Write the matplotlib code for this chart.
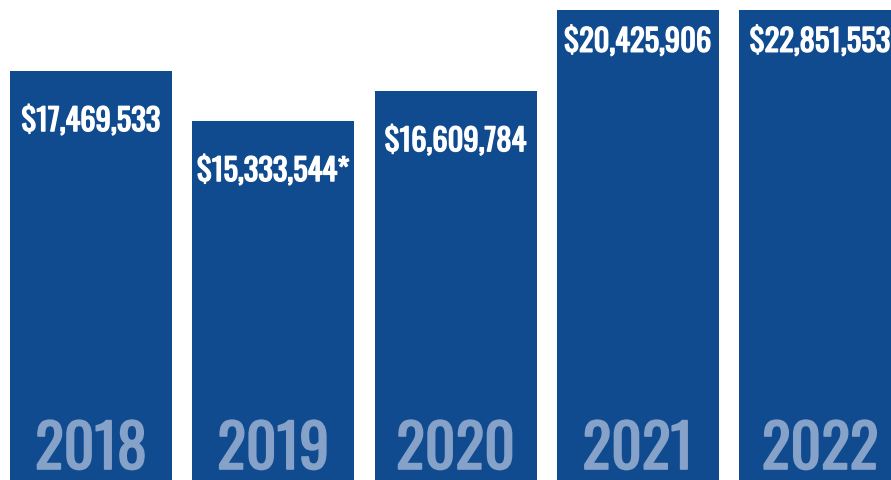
import matplotlib
matplotlib.use("Agg")
import matplotlib.pyplot as plt
import matplotlib.patheffects as pe

# data
years = ["2018", "2019", "2020", "2021", "2022"]
values = [17469533, 15333544, 16609784, 20425906, 22851553]
labels = ["$17,469,533", "$15,333,544*", "$16,609,784", "$20,425,906", "$22,851,553"]

bar_color = "#104b8f"
year_color = "#87a2c8"
fonts = ["Oswald", "Roboto Condensed", "DejaVu Sans"]

fig = plt.figure(figsize=(8.91, 4.81), dpi=100)
ax = fig.add_axes([0, 0, 1, 470 / 481])

ymax = 20.09e6
pitch = 182.25
xs = [i * pitch for i in range(len(years))]
ax.bar(xs, values, width=162, color=bar_color, clip_on=True)
ax.set_xlim(-91, 891 - 91)
ax.set_ylim(0, ymax)
ax.axis("off")

# oswald here is only regular weight, so thicken the glyphs a bit
for x, v, lab, yr in zip(xs, values, labels, years):
    clipped = v > ymax
    top = min(v, ymax)
    off = -32 if clipped else -50
    ax.annotate(lab, (x, top), xytext=(0, off), textcoords="offset pixels",
                ha="center", va="center", color="white", fontsize=22,
                fontweight="bold", family=fonts,
                path_effects=[pe.withStroke(linewidth=1.0, foreground="white")])
    ax.annotate(yr, (x, 0), xytext=(0, 11), textcoords="offset pixels",
                ha="center", va="baseline", color=year_color, fontsize=43,
                fontweight="bold", family=fonts,
                path_effects=[pe.withStroke(linewidth=1.2, foreground=year_color)])

fig.savefig("out.png", dpi=100)
